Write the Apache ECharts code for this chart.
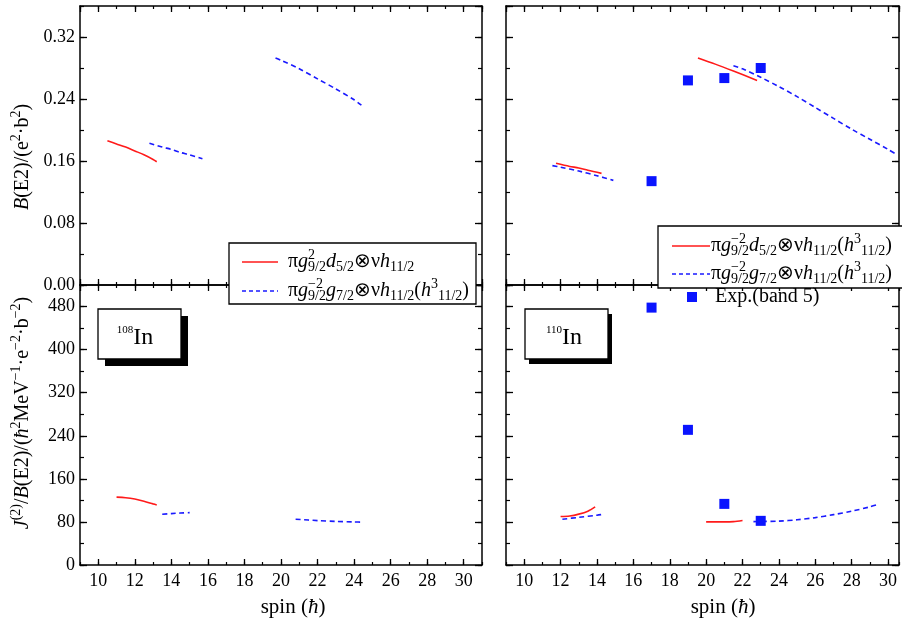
<!DOCTYPE html>
<html><head><meta charset="utf-8">
<script src="https://cdn.jsdelivr.net/npm/echarts@6/dist/echarts.min.js"></script>
<style>html,body{margin:0;padding:0;background:#fff}#c{width:902px;height:623px}</style>
</head><body><div id="c"></div><script>
// ---------------- data ----------------
// 108In  B(E2)
const in108_be2_red_spin = [10.5, 11, 11.5, 12, 12.5, 13, 13.2];
const in108_be2_red      = [0.186, 0.182, 0.178, 0.173, 0.168, 0.162, 0.159];
const in108_be2_blueA_spin = [12.8, 13.5, 14, 14.5, 15, 15.7];
const in108_be2_blueA      = [0.183, 0.178, 0.175, 0.171, 0.168, 0.163];
const in108_be2_blueB_spin = [19.7, 20, 21, 22, 23, 24, 24.4];
const in108_be2_blueB      = [0.293, 0.290, 0.279, 0.266, 0.253, 0.239, 0.232];
// 110In  B(E2)
const in110_be2_redA_spin = [11.75, 12.5, 13, 13.5, 14.25];
const in110_be2_redA      = [0.157, 0.153, 0.151, 0.148, 0.144];
const in110_be2_blueA_spin = [11.55, 12, 13, 14, 14.9];
const in110_be2_blueA      = [0.154, 0.152, 0.147, 0.141, 0.135];
const in110_be2_redB_spin = [19.55, 20.5, 21.5, 22.8];
const in110_be2_redB      = [0.293, 0.285, 0.276, 0.264];
const in110_be2_blueB_spin = [21.5, 22, 23, 24, 25, 26, 27, 28, 29, 30, 30.5];
const in110_be2_blueB      = [0.283, 0.279, 0.268, 0.256, 0.243, 0.229, 0.215, 0.201, 0.188, 0.175, 0.168];
// 108In  J2/B(E2)
const in108_jb_red_spin = [11, 11.5, 12, 12.5, 13, 13.2];
const in108_jb_red      = [126, 125, 122.5, 118.5, 113.5, 111.6];
const in108_jb_blueA_spin = [13.5, 14, 14.5, 15];
const in108_jb_blueA      = [94.3, 95.5, 96.5, 97.3];
const in108_jb_blueB_spin = [20.8, 21.5, 22, 23, 24, 24.5];
const in108_jb_blueB      = [85, 83.5, 82.5, 81, 80, 79.5];
// 110In  J2/B(E2)
const in110_jb_redA_spin = [12, 12.5, 13, 13.5, 13.9];
const in110_jb_redA      = [90, 91, 94.5, 100, 108];
const in110_jb_blueA_spin = [12.1, 13, 14, 14.4];
const in110_jb_blueA      = [85, 88.5, 92.5, 94.5];
const in110_jb_redB_spin = [20, 21, 21.5, 22];
const in110_jb_redB      = [80, 80, 80.5, 82.5];
const in110_jb_blueB_spin = [22.6, 23, 24, 25, 26, 27, 28, 29, 29.5];
const in110_jb_blueB      = [80.6, 80.8, 81.5, 84, 88, 93.5, 100, 108, 113];
// 110In experiment (band 5)
const exp_spin = [17, 19, 21, 23];
const exp_be2  = [0.134, 0.264, 0.267, 0.280];
const exp_jb   = [478, 251, 113.5, 82];
// axis ranges / ticks
const xRangeLeft = [9, 31];
const xRangeRight = [9, 30.6];
const be2Range = [0, 0.36];
const be2Step = 0.08;
const jbRange = [0, 520];
const jbStep = 80;
const spinStep = 2;

// ---------------- helpers ----------------
const FONT = '"Liberation Serif", "Times New Roman", serif';
const mctx = document.createElement('canvas').getContext('2d');
function tw(t, size, it) { mctx.font = (it ? 'italic ' : '') + size + 'px ' + FONT; return mctx.measureText(t).width; }
function runsToChildren(runs, base, ratio) {
  const kids = []; let x = 0; let stackStart = null, stackW = 0;
  for (const r of runs) {
    const size = r.s ? Math.round(base * ratio) : base;
    const dy = r.s === 'sup' ? -base * 0.34 : r.s === 'sub' ? base * 0.27 : 0;
    const w = tw(r.t, size, r.it);
    let px;
    if (stackStart !== null) { px = stackStart; x = stackStart + Math.max(stackW, w); stackStart = null; }
    else if (r.st) { px = x; stackStart = x; stackW = w; }
    else { px = x; x += w; }
    kids.push({ type: 'text', x: px, y: dy, z: 120, silent: true,
      style: { text: r.t, font: (r.it ? 'italic ' : '') + size + 'px ' + FONT, fill: '#000',
        textAlign: 'left', textVerticalAlign: 'middle', align: 'left', verticalAlign: 'middle' } });
  }
  return { kids, w: x };
}
function textGroup(runs, x, y, base, opts) {
  opts = opts || {};
  const r = runsToChildren(runs, base, opts.ratio || 0.66);
  const shift = opts.align === 'center' ? -r.w / 2 : 0;
  r.kids.forEach(k => k.x += shift);
  return { type: 'group', x, y, rotation: opts.rot || 0, z: 120, children: r.kids };
}

const xAxes = [], yAxes = [];
const AX = { color: '#000', width: 1.5 };
function addAxes(gi, xr, yr, ystep, showX, showY, yfmt) {
  const xi = xAxes.length, yi = yAxes.length;
  const lbl = (show, minL) => ({ show, showMinLabel: minL, showMaxLabel: false, margin: 7, fontFamily: FONT, fontSize: 18, color: '#000' });
  ['bottom', 'top'].forEach(pos => {
    xAxes.push({ type: 'value', gridIndex: gi, position: pos, min: xr[0], max: xr[1], minInterval: spinStep, maxInterval: spinStep,
      axisLine: { show: true, onZero: false, lineStyle: AX }, axisTick: { show: true, inside: true, length: 6, lineStyle: { color: '#000', width: 1.3 } },
      axisLabel: lbl(showX && pos === 'bottom', false), splitLine: { show: false } });
    xAxes.push({ type: 'value', gridIndex: gi, position: pos, min: xr[0], max: xr[1], interval: spinStep / 2,
      axisLine: { show: false, onZero: false }, axisTick: { show: true, inside: true, length: 3, lineStyle: { color: '#000', width: 1.2 } },
      axisLabel: { show: false }, splitLine: { show: false } });
  });
  ['left', 'right'].forEach(pos => {
    yAxes.push({ type: 'value', gridIndex: gi, position: pos, min: yr[0], max: yr[1], interval: ystep,
      axisLine: { show: true, onZero: false, lineStyle: AX }, axisTick: { show: true, inside: true, length: 7, lineStyle: { color: '#000', width: 1.3 } },
      axisLabel: Object.assign(lbl(showY && pos === 'left', true), { margin: 5, formatter: yfmt }), splitLine: { show: false } });
    yAxes.push({ type: 'value', gridIndex: gi, position: pos, min: yr[0], max: yr[1], interval: ystep / 2,
      axisLine: { show: false, onZero: false }, axisTick: { show: true, inside: true, length: 4, lineStyle: { color: '#000', width: 1.2 } },
      axisLabel: { show: false }, splitLine: { show: false } });
  });
  return { x: xi, y: yi };
}

const grids = [
  { left: 80, top: 6, width: 402, height: 279 },
  { left: 506, top: 6, width: 393, height: 279 },
  { left: 80, top: 285, width: 402, height: 280 },
  { left: 506, top: 285, width: 393, height: 280 }
];
const fmtB = v => v.toFixed(2);
const fmtJ = v => String(Math.round(v));
const aTL = addAxes(0, xRangeLeft, be2Range, be2Step, false, true, fmtB);
const aTR = addAxes(1, xRangeRight, be2Range, be2Step, false, false, fmtB);
const aBL = addAxes(2, xRangeLeft, jbRange, jbStep, true, true, fmtJ);
const aBR = addAxes(3, xRangeRight, jbRange, jbStep, true, false, fmtJ);

const RED = '#ff1a1a', BLUE = '#1a1aff', SQ = '#0a14ff';
function pairs(xs, ys) { return xs.map((x, i) => [x, ys[i]]); }
function lineS(ax, xs, ys, dashed) {
  return { type: 'line', xAxisIndex: ax.x, yAxisIndex: ax.y, data: pairs(xs, ys), showSymbol: false, symbol: 'none',
    smooth: 0.3, silent: true, z: 3,
    lineStyle: { color: dashed ? BLUE : RED, width: 1.6, type: dashed ? [5, 3.5] : 'solid' } };
}
function sqS(ax, xs, ys) {
  return { type: 'scatter', xAxisIndex: ax.x, yAxisIndex: ax.y, data: pairs(xs, ys), symbol: 'rect', symbolSize: 10,
    itemStyle: { color: SQ, opacity: 1 }, silent: true, z: 5 };
}
const series = [
  lineS(aTL, in108_be2_red_spin, in108_be2_red, false),
  lineS(aTL, in108_be2_blueA_spin, in108_be2_blueA, true),
  lineS(aTL, in108_be2_blueB_spin, in108_be2_blueB, true),
  lineS(aTR, in110_be2_redA_spin, in110_be2_redA, false),
  lineS(aTR, in110_be2_blueA_spin, in110_be2_blueA, true),
  lineS(aTR, in110_be2_redB_spin, in110_be2_redB, false),
  lineS(aTR, in110_be2_blueB_spin, in110_be2_blueB, true),
  sqS(aTR, exp_spin, exp_be2),
  lineS(aBL, in108_jb_red_spin, in108_jb_red, false),
  lineS(aBL, in108_jb_blueA_spin, in108_jb_blueA, true),
  lineS(aBL, in108_jb_blueB_spin, in108_jb_blueB, true),
  lineS(aBR, in110_jb_redA_spin, in110_jb_redA, false),
  lineS(aBR, in110_jb_blueA_spin, in110_jb_blueA, true),
  lineS(aBR, in110_jb_redB_spin, in110_jb_redB, false),
  lineS(aBR, in110_jb_blueB_spin, in110_jb_blueB, true),
  sqS(aBR, exp_spin, exp_jb)
];

// ---------------- texts ----------------
const S = (t, o) => Object.assign({ t }, o || {});
const legL1 = [S('π'), S('g', { it: true }), S('2', { s: 'sup', st: true }), S('9/2', { s: 'sub' }), S('d', { it: true }), S('5/2', { s: 'sub' }), S('⊗ν'), S('h', { it: true }), S('11/2', { s: 'sub' })];
const legL2 = [S('π'), S('g', { it: true }), S('−2', { s: 'sup', st: true }), S('9/2', { s: 'sub' }), S('g', { it: true }), S('7/2', { s: 'sub' }), S('⊗ν'), S('h', { it: true }), S('11/2', { s: 'sub' }), S('('), S('h', { it: true }), S('3', { s: 'sup' }), S('11/2', { s: 'sub' }), S(')')];
const legR1 = [S('π'), S('g', { it: true }), S('−2', { s: 'sup', st: true }), S('9/2', { s: 'sub' }), S('d', { it: true }), S('5/2', { s: 'sub' }), S('⊗ν'), S('h', { it: true }), S('11/2', { s: 'sub' }), S('('), S('h', { it: true }), S('3', { s: 'sup' }), S('11/2', { s: 'sub' }), S(')')];
const legR2 = legL2;
const legR3 = [S('Exp.(band 5)')];
const titleB = [S('B', { it: true }), S('(E2)/(e'), S('2', { s: 'sup' }), S('·b'), S('2', { s: 'sup' }), S(')')];
const titleJ = [S('J', { it: true }), S('(2)', { s: 'sup' }), S('/'), S('B', { it: true }), S('(E2)/('), S('ħ', { it: true }), S('2', { s: 'sup' }), S('MeV'), S('−1', { s: 'sup' }), S('·e'), S('−2', { s: 'sup' }), S('·b'), S('−2', { s: 'sup' }), S(')')];
const titleSpin = [S('spin ('), S('ħ', { it: true }), S(')')];
const nuc108 = [S('108', { s: 'sup' }), S('In')];
const nuc110 = [S('110', { s: 'sup' }), S('In')];

function lineEl(x1, y1, x2, y2, color, dashed) {
  return { type: 'line', z: 120, silent: true, shape: { x1, y1, x2, y2 }, style: { stroke: color, lineWidth: 1.6, lineDash: dashed ? [4, 3] : null } };
}
function boxEl(x, y, w, h, fill, stroke) {
  return { type: 'rect', z: 110, silent: true, shape: { x, y, width: w, height: h }, style: { fill, stroke: stroke || null, lineWidth: 1.3 } };
}
const LEG = { ratio: 0.7 };
const NUC = { align: 'center', ratio: 0.46 };
const graphics = [
  // left legend
  boxEl(229, 243, 247, 61, '#fff', '#000'),
  lineEl(242, 262, 278, 262, RED, false),
  textGroup(legL1, 288, 262, 20, LEG),
  lineEl(242, 291, 278, 291, BLUE, true),
  textGroup(legL2, 288, 291, 20, LEG),
  // right legend
  boxEl(658, 226, 260, 62, '#fff', '#000'),
  lineEl(672, 246, 710, 246, RED, false),
  textGroup(legR1, 711, 246, 20, LEG),
  lineEl(672, 274, 710, 274, BLUE, true),
  textGroup(legR2, 711, 274, 20, LEG),
  { type: 'rect', z: 120, silent: true, shape: { x: 687, y: 292, width: 10, height: 10 }, style: { fill: SQ } },
  textGroup(legR3, 715, 297, 20, LEG),
  // nucleus labels
  boxEl(105, 316, 83, 50, '#000'),
  boxEl(98, 309, 83, 50, '#fff', '#000'),
  textGroup(nuc108, 135, 338, 24, NUC),
  boxEl(529, 314, 83, 50, '#000'),
  boxEl(525, 309, 83, 50, '#fff', '#000'),
  textGroup(nuc110, 564, 338, 24, NUC),
  // axis titles
  textGroup(titleB, 23, 157, 20, { align: 'center', rot: Math.PI / 2, ratio: 0.68 }),
  textGroup(titleJ, 23, 413, 20, { align: 'center', rot: Math.PI / 2, ratio: 0.68 }),
  textGroup(titleSpin, 293, 607, 21, { align: 'center' }),
  textGroup(titleSpin, 723, 607, 21, { align: 'center' })
];

const chart = echarts.init(document.getElementById('c'), null, { renderer: 'canvas' });
chart.setOption({
  animation: false,
  backgroundColor: '#fff',
  textStyle: { fontFamily: FONT },
  grid: grids,
  xAxis: xAxes,
  yAxis: yAxes,
  series,
  graphic: { elements: graphics }
});
</script></body></html>
